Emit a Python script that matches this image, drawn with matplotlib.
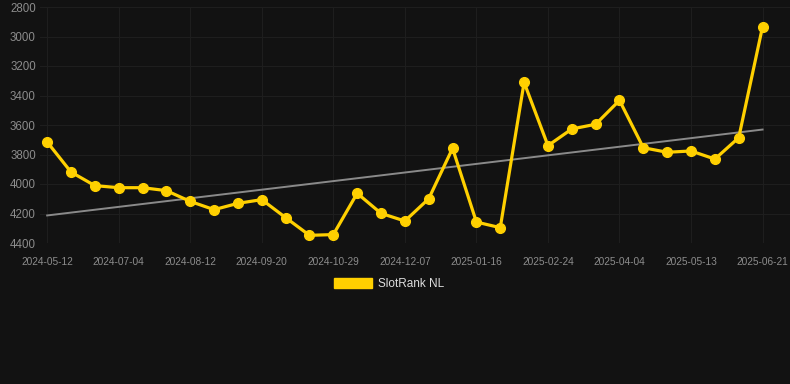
import matplotlib.pyplot as plt
import numpy as np

# SlotRank NL rank history (lower is better, axis is reversed)
tick_labels = ['2024-05-12', '2024-07-04', '2024-08-12', '2024-09-20', '2024-10-29',
               '2024-12-07', '2025-01-16', '2025-02-24', '2025-04-04', '2025-05-13',
               '2025-06-21']
rank = [3715, 3919, 4011, 4025, 4025, 4045, 4118, 4174, 4131, 4106,
        4228, 4348, 4343, 4063, 4199, 4251, 4100, 3758, 4258, 4296,
        3311, 3740, 3627, 3595, 3433, 3754, 3785, 3776, 3831, 3686,
        2933]
y_ticks = [2800, 3000, 3200, 3400, 3600, 3800, 4000, 4200, 4400]

bg = '#121212'
gold = '#FFD000'

fig = plt.figure(figsize=(7.9, 3.84), dpi=100, facecolor=bg)
ax = fig.add_axes([40 / 790, 1 - 243 / 384, 750 / 790, 236 / 384], facecolor=bg)

x = np.arange(len(rank))
ax.plot(x, rank, color=gold, lw=2.3, marker='o', ms=7, zorder=3, label='SlotRank NL')

# linear trend line
k, b = np.polyfit(x, rank, 1)
ax.plot(x, k * x + b, color='#8a8a8a', lw=1.4, zorder=2)

ax.set_xlim(-0.3, 31.15)
ax.set_ylim(4400, 2800)
ax.set_yticks(y_ticks)
ax.set_xticks(x[::3])
ax.set_xticklabels(tick_labels)

for s in ax.spines.values():
    s.set_visible(False)
ax.grid(True, color='#1e1e1e', lw=0.8)
ax.tick_params(axis='both', length=0, colors='#8c8c8c')
ax.tick_params(axis='x', labelsize=7.3, pad=10)
ax.tick_params(axis='y', labelsize=8.3, pad=3)
for t in ax.get_xticklabels() + ax.get_yticklabels():
    t.set_fontfamily('Liberation Sans')

leg = fig.legend(handles=[plt.Rectangle((0, 0), 1, 1, color=gold)], labels=['SlotRank NL'],
                 loc='center', bbox_to_anchor=(389 / 790, 1 - 284 / 384), frameon=False,
                 handlelength=3.3, handleheight=0.9, handletextpad=0.5,
                 prop={'family': 'Liberation Sans', 'size': 8.5})
for t in leg.get_texts():
    t.set_color('#dddddd')

fig.savefig('out.png', dpi=100, facecolor=bg)
